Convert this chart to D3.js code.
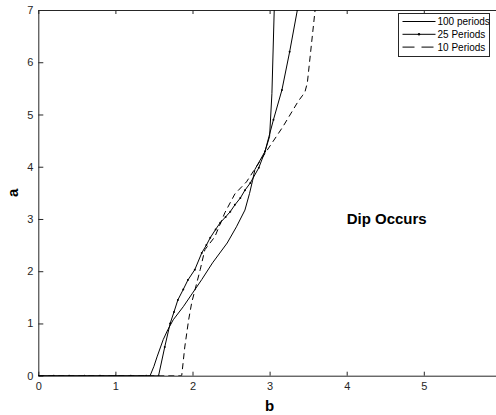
<!DOCTYPE html>
<html>
<head>
<meta charset="utf-8">
<script src="https://cdn.jsdelivr.net/npm/d3@7"></script>
<style>
  body { margin: 0; background: #fff; }
  svg { display: block; font-family: "Liberation Sans", Arial, sans-serif; }
  .axis path, .axis line { stroke: #262626; }
  .axis text { fill: #262626; font-size: 11px; }
</style>
</head>
<body>
<svg id="chart" width="496" height="415"></svg>
<script>
// series: b (x) and a (y)
const b100 = [0, 1.45, 1.50, 1.54, 1.62, 1.68, 1.75, 1.88, 2.0, 2.12, 2.26, 2.45, 2.57, 2.68, 2.74, 2.78, 2.81, 2.94, 3.0, 3.03, 3.06];
const a100 = [0, 0, 0.18, 0.36, 0.69, 0.88, 1.07, 1.32, 1.58, 1.84, 2.16, 2.54, 2.85, 3.17, 3.49, 3.74, 3.95, 4.29, 4.58, 5.4, 7.0];

const b25 = [0, 0.2, 0.4, 0.6, 0.8, 1.0, 1.2, 1.4, 1.56, 1.64, 1.71, 1.76, 1.81, 1.88, 1.94, 2.03, 2.12, 2.18, 2.23, 2.30, 2.36, 2.43, 2.49, 2.55, 2.62, 2.68, 2.75, 2.86, 2.94, 3.05, 3.16, 3.26, 3.36];
const a25 = [0, 0, 0, 0, 0, 0, 0, 0, 0, 0.55, 1.0, 1.22, 1.45, 1.65, 1.83, 2.03, 2.35, 2.50, 2.64, 2.80, 2.93, 3.04, 3.14, 3.27, 3.40, 3.55, 3.69, 3.98, 4.29, 4.9, 5.47, 6.2, 7.0];

const b10 = [0, 1.86, 1.90, 1.95, 1.99, 2.1, 2.16, 2.29, 2.42, 2.55, 2.70, 2.97, 3.17, 3.37, 3.43, 3.46, 3.49, 3.59];
const a10 = [0, 0, 0.55, 1.07, 1.4, 2.03, 2.41, 2.66, 3.12, 3.48, 3.71, 4.32, 4.76, 5.25, 5.37, 5.44, 5.61, 7.0];

const xTicks = [0, 1, 2, 3, 4, 5];
const yTicks = [0, 1, 2, 3, 4, 5, 6, 7];
const legendNames = ["100 periods", "25 Periods", "10 Periods"];

const svg = d3.select("#chart");

const x = d3.scaleLinear().domain([0, 6]).range([38.3, 500.9]);
const y = d3.scaleLinear().domain([0, 7]).range([375.7, 10]);

svg.append("defs").append("clipPath").attr("id", "plotclip")
  .append("rect")
  .attr("x", x(0)).attr("y", y(7))
  .attr("width", x(6) - x(0)).attr("height", y(0) - y(7));

// axes, ticks pointing inward like matlab
svg.append("g")
  .attr("class", "axis")
  .attr("transform", `translate(0, ${y(0)})`)
  .call(d3.axisBottom(x).tickValues(xTicks).tickFormat(d3.format("d"))
    .tickSizeInner(-4).tickSizeOuter(0).tickPadding(7));

svg.append("g")
  .attr("class", "axis")
  .attr("transform", `translate(0, ${y(7)})`)
  .call(d3.axisTop(x).tickValues(xTicks).tickSizeInner(-4).tickSizeOuter(0).tickFormat(""));

svg.append("g")
  .attr("class", "axis")
  .attr("transform", `translate(${x(0)}, 0)`)
  .call(d3.axisLeft(y).tickValues(yTicks).tickFormat(d3.format("d"))
    .tickSizeInner(-5).tickSizeOuter(0).tickPadding(5));

const line = d3.line().x(d => x(d[0])).y(d => y(d[1]));
const smooth = d3.line().curve(d3.curveMonotoneY).x(d => x(d[0])).y(d => y(d[1]));

const plot = svg.append("g").attr("clip-path", "url(#plotclip)");

const d100 = b100.map((v, i) => [v, a100[i]]);
const d25 = b25.map((v, i) => [v, a25[i]]);
const d10 = b10.map((v, i) => [v, a10[i]]);

plot.append("path")
  .datum(d10)
  .attr("fill", "none")
  .attr("stroke", "#000")
  .attr("stroke-width", 1)
  .attr("stroke-dasharray", "6,4")
  .attr("d", line);

plot.append("path")
  .datum(d100)
  .attr("fill", "none")
  .attr("stroke", "#000")
  .attr("stroke-width", 1)
  .attr("d", line);

plot.append("path")
  .datum(d25)
  .attr("fill", "none")
  .attr("stroke", "#000")
  .attr("stroke-width", 1)
  .attr("d", line);

plot.selectAll(".dot")
  .data(d25)
  .enter()
  .append("circle")
  .attr("class", "dot")
  .attr("cx", d => x(d[0]))
  .attr("cy", d => y(d[1]))
  .attr("r", 1)
  .attr("fill", "#000");

// annotation
svg.append("text")
  .attr("x", x(4))
  .attr("y", y(3) + 5)
  .attr("font-size", "15px")
  .attr("font-weight", "bold")
  .text("Dip Occurs");

// axis labels
svg.append("text")
  .attr("x", (x(0) + x(6)) / 2)
  .attr("y", 411)
  .attr("text-anchor", "middle")
  .attr("font-size", "15px")
  .attr("font-weight", "bold")
  .text("b");

svg.append("text")
  .attr("transform", `translate(18, ${(y(0) + y(7)) / 2}) rotate(-90)`)
  .attr("text-anchor", "middle")
  .attr("font-size", "15px")
  .attr("font-weight", "bold")
  .text("a");

// legend
const legend = svg.append("g").attr("transform", "translate(398.5, 13.5)");

legend.append("rect")
  .attr("width", 91)
  .attr("height", 43)
  .attr("fill", "#fff")
  .attr("stroke", "#262626")
  .attr("stroke-width", 1);

const rows = legend.selectAll(".row")
  .data(legendNames)
  .enter()
  .append("g")
  .attr("transform", (d, i) => `translate(0, ${8 + i * 12.8})`);

rows.append("line")
  .attr("x1", 4)
  .attr("x2", 37)
  .attr("stroke", "#000")
  .attr("stroke-width", 1)
  .attr("stroke-dasharray", (d, i) => i === 2 ? "12,7" : null);

rows.filter((d, i) => i === 1)
  .append("circle")
  .attr("cx", 20.5)
  .attr("r", 1.2)
  .attr("fill", "#000");

rows.append("text")
  .attr("x", 39)
  .attr("dy", "0.35em")
  .attr("font-size", "10px")
  .attr("fill", "#000")
  .text(d => d);
</script>
</body>
</html>
